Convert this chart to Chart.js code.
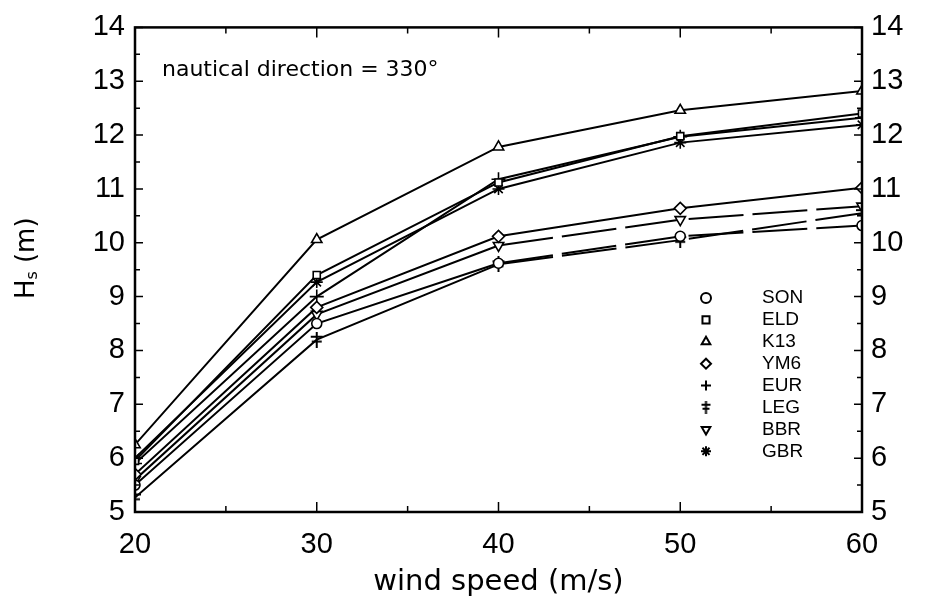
<!DOCTYPE html>
<html>
<head>
<meta charset="utf-8">
<script src="https://cdn.jsdelivr.net/npm/chart.js@4"></script>
<style>
  body { margin: 0; background: #fff; }
  #wrap { width: 927px; height: 601px; }
</style>
</head>
<body>
<div id="wrap"><canvas id="hsChart"></canvas></div>
<script>
// wind speed (m/s) and Hs (m) per model
const windSpeed = [20, 30, 40, 50, 60];
const son = [5.5, 8.5, 9.62, 10.12, 10.32];
const eld = [5.95, 9.4, 11.12, 11.98, 12.4];
const k13 = [6.25, 10.06, 11.78, 12.46, 12.82];
const ym6 = [5.7, 8.8, 10.12, 10.64, 11.02];
const eur = [5.9, 9.0, 11.18, 11.97, 12.32];
const leg = [5.27, 8.2, 9.6, 10.05, 10.55];
const bbr = [5.6, 8.67, 9.95, 10.43, 10.68];
const gbr = [6.0, 9.27, 11.0, 11.86, 12.19];

const xTicks = [20, 30, 40, 50, 60];
const yTicks = [5, 6, 7, 8, 9, 10, 11, 12, 13, 14];
const note = "nautical direction = 330°";

// double cross marker for LEG
function makeLegMarker(size) {
    const c = document.createElement("canvas");
    c.width = size; c.height = size + 2;
    const g = c.getContext("2d");
    const m = size / 2;
    g.strokeStyle = "#000";
    g.lineWidth = 2;
    g.beginPath();
    g.moveTo(m, 0); g.lineTo(m, size + 2);
    g.moveTo(1, size * 0.35); g.lineTo(size - 1, size * 0.35);
    g.moveTo(2, size * 0.7); g.lineTo(size - 2, size * 0.7);
    g.stroke();
    return c;
}
const legMarker = makeLegMarker(14);
const legMarkerSmall = makeLegMarker(11);

const dashLater = { borderDash: ctx => ctx.p0DataIndex >= 2 ? [55, 9] : undefined };

function series(label, values, style, opts) {
    return Object.assign({
        label: label,
        data: windSpeed.map((w, i) => ({ x: w, y: values[i] })),
        borderColor: "#000",
        borderWidth: 2,
        pointStyle: style,
        pointRadius: 6,
        pointBorderWidth: 1.6,
        pointBorderColor: "#000",
        pointBackgroundColor: "#fff",
        tension: 0
    }, opts || {});
}

const datasets = [
    series("SON", son, "circle", { segment: dashLater, pointRadius: 5 }),
    series("ELD", eld, "rect", { pointRadius: 5 }),
    series("K13", k13, "triangle"),
    series("YM6", ym6, "rectRot"),
    series("EUR", eur, "cross", { pointRadius: 7 }),
    series("LEG", leg, legMarker, { segment: dashLater }),
    series("BBR", bbr, "triangle", { segment: dashLater, pointRotation: 180 }),
    series("GBR", gbr, "star")
];

const tickFont = { family: "Liberation Sans", size: 29 };

const decor = {
    id: "decor",
    afterDraw(chart) {
        const ctx = chart.ctx;
        const a = chart.chartArea;
        const xs = chart.scales.x, ys = chart.scales.y;
        ctx.save();
        ctx.strokeStyle = "#000";
        ctx.fillStyle = "#000";

        // frame
        ctx.lineWidth = 2.5;
        ctx.strokeRect(a.left, a.top, a.right - a.left, a.bottom - a.top);

        // inward ticks
        ctx.lineWidth = 1.5;
        ctx.beginPath();
        for (let v = 20; v <= 60; v += 5) {
            const px = xs.getPixelForValue(v);
            const len = v % 10 === 0 ? 10 : 6;
            ctx.moveTo(px, a.bottom); ctx.lineTo(px, a.bottom - len);
            ctx.moveTo(px, a.top); ctx.lineTo(px, a.top + len);
        }
        for (let v = 5; v <= 14; v += 0.5) {
            const py = ys.getPixelForValue(v);
            const len = Number.isInteger(v) ? 8 : 5;
            ctx.moveTo(a.left, py); ctx.lineTo(a.left + len, py);
            ctx.moveTo(a.right, py); ctx.lineTo(a.right - len, py);
        }
        ctx.stroke();

        // annotation
        ctx.font = "22px 'DejaVu Sans'";
        ctx.textBaseline = "middle";
        ctx.textAlign = "left";
        ctx.fillText(note, 162, 70);

        // y title: Hs (m), rotated
        ctx.save();
        ctx.translate(27, 255);
        ctx.rotate(-Math.PI / 2);
        ctx.textBaseline = "middle";
        ctx.font = "26px 'DejaVu Sans'";
        ctx.textAlign = "left";
        let x0 = -44;
        ctx.fillText("H", x0, 0);
        x0 += ctx.measureText("H").width;
        ctx.font = "16px 'DejaVu Sans'";
        ctx.fillText("s", x0, 6);
        x0 += ctx.measureText("s ").width + 3;
        ctx.font = "26px 'DejaVu Sans'";
        ctx.fillText("(m)", x0, 0);
        ctx.restore();

        // legend
        ctx.textAlign = "left";
        ctx.textBaseline = "middle";
        chart.data.datasets.forEach((ds, i) => {
            const y = 298 + i * 21.9;
            ctx.fillStyle = "#fff";
            ctx.strokeStyle = "#000";
            ctx.lineWidth = 2;
            Chart.helpers.drawPoint(ctx, {
                pointStyle: ds.pointStyle === legMarker ? legMarkerSmall : ds.pointStyle,
                radius: 5,
                rotation: ds.pointRotation || 0,
                borderWidth: 2
            }, 706, y);
            ctx.fillStyle = "#000";
            ctx.font = "19px 'Liberation Sans'";
            ctx.fillText(ds.label, 762, y);
        });
        ctx.restore();
    }
};

new Chart(document.getElementById("hsChart"), {
    type: "line",
    data: { datasets: datasets },
    options: {
        responsive: true,
        maintainAspectRatio: false,
        animation: false,
        layout: { padding: { top: 21, left: 0, right: 0, bottom: 0 } },
        plugins: { legend: { display: false }, tooltip: { enabled: false } },
        scales: {
            x: {
                type: "linear",
                min: 20, max: 60,
                afterBuildTicks: s => { s.ticks = xTicks.map(v => ({ value: v })); },
                afterFit: s => { s.height = 89; },
                grid: { display: false, drawTicks: false },
                border: { display: false },
                ticks: { color: "#000", font: tickFont, padding: 16, maxRotation: 0 },
                title: {
                    display: true,
                    text: "wind speed (m/s)",
                    color: "#000",
                    font: { family: "DejaVu Sans", size: 29 },
                    padding: { top: 0, bottom: 1 }
                }
            },
            y: {
                type: "linear",
                position: "left",
                min: 5, max: 14,
                afterBuildTicks: s => { s.ticks = yTicks.map(v => ({ value: v })); },
                afterFit: s => { s.width = 135; },
                grid: { display: false, drawTicks: false },
                border: { display: false },
                ticks: { color: "#000", font: tickFont, padding: 10 }
            },
            y2: {
                type: "linear",
                position: "right",
                min: 5, max: 14,
                afterBuildTicks: s => { s.ticks = yTicks.map(v => ({ value: v })); },
                afterFit: s => { s.width = 65; },
                grid: { display: false, drawTicks: false },
                border: { display: false },
                ticks: { color: "#000", font: tickFont, padding: 9 }
            }
        }
    },
    plugins: [decor]
});
</script>
</body>
</html>
